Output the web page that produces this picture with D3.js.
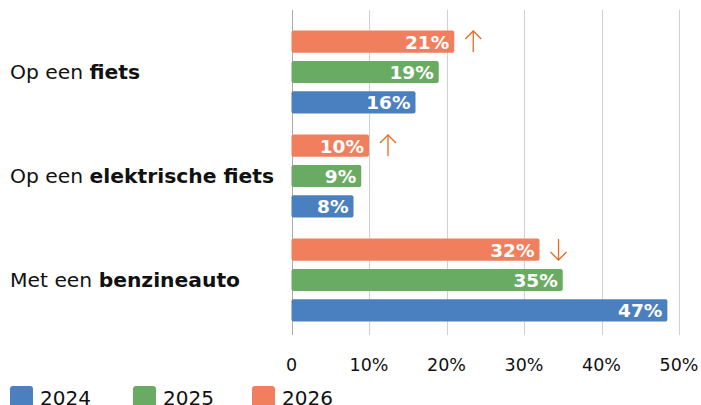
<!DOCTYPE html>
<html><head><meta charset="utf-8">
<script src="https://cdn.jsdelivr.net/npm/d3@7"></script>
<style>
body{margin:0;background:#fff;}
svg{display:block;font-family:"DejaVu Sans", "Noto Sans", sans-serif;}
</style></head>
<body><svg id="c" width="701" height="405"></svg>
<script>
const categories = [
  {plain:"Op een ", bold:"fiets"},
  {plain:"Op een ", bold:"elektrische fiets"},
  {plain:"Met een ", bold:"benzineauto"}
];
const series = ["2026","2025","2024"];
const values2026 = [21, 10, 32];
const values2025 = [19, 9, 35];
const values2024 = [16, 8, 48.5];
const labels2026 = ["21%","10%","32%"];
const labels2025 = ["19%","9%","35%"];
const labels2024 = ["16%","8%","47%"];
const trend = ["up","up","down"];
const xTicks = [0,10,20,30,40,50];
const legendOrder = ["2024","2025","2026"];
const colors = {"2024":"#4a80c0","2025":"#6aab63","2026":"#f17e5c"};
const arrowColor = "#e8691e";

const valuesBySeries = {"2026":values2026,"2025":values2025,"2024":values2024};
const labelsBySeries = {"2026":labels2026,"2025":labels2025,"2024":labels2024};
const svg = d3.select("#c");
const x = d3.scaleLinear().domain([0,50]).range([291.5,679]);
const y = d3.scaleBand().domain(d3.range(categories.length)).range([20,332]).paddingInner(0.2).paddingOuter(0.1);
const yi = d3.scaleBand().domain(series).range([0,y.bandwidth()]).paddingInner(0.27).paddingOuter(0);

// gridlines
svg.append("g").selectAll("line").data(xTicks).join("line")
  .attr("x1",d=>Math.round(x(d))+0.5).attr("x2",d=>Math.round(x(d))+0.5)
  .attr("y1",10).attr("y2",335)
  .attr("stroke",d=>d===0?"#aaa":"#d0d0d0").attr("stroke-width",1);

// axis labels
svg.append("g").selectAll("text").data(xTicks).join("text")
  .attr("x",d=>x(d)).attr("y",371).attr("text-anchor","middle")
  .attr("font-size",17.5).attr("fill","#111")
  .text(d=>d===0?"0":d+"%");

// category labels
categories.forEach((c,i)=>{
  const t = svg.append("text").attr("x",10).attr("y",y(i)+y.bandwidth()/2+7)
    .attr("font-size",20.3).attr("fill","#111");
  t.append("tspan").text(c.plain);
  t.append("tspan").attr("font-weight","bold").text(c.bold);
});

// bars
categories.forEach((c,i)=>{
  const g = svg.append("g").attr("transform",`translate(0,${y(i)})`);
  series.forEach(s=>{
    const v = valuesBySeries[s][i];
    g.append("rect").attr("x",x(0)).attr("y",yi(s))
      .attr("width",x(v)-x(0)).attr("height",yi.bandwidth())
      .attr("rx",2).attr("fill",colors[s]);
    g.append("text").attr("x",x(v)-5).attr("y",yi(s)+yi.bandwidth()/2+7)
      .attr("text-anchor","end").attr("font-size",18.5).attr("font-weight","bold")
      .attr("fill","#fff").text(labelsBySeries[s][i]);
  });
  // arrow next to 2026 bar
  const v = values2026[i];
  const cx = x(v)+19, cy = yi("2026")+yi.bandwidth()/2;
  const dir = trend[i]==="up"?-1:1;
  const tip = cy+10.5*dir;
  const a = g.append("g").attr("stroke",arrowColor).attr("stroke-width",1.3).attr("fill","none");
  a.append("line").attr("x1",cx).attr("x2",cx).attr("y1",cy-10.5*dir).attr("y2",tip);
  a.append("path").attr("d",`M${cx-8},${tip-8*dir} L${cx},${tip} L${cx+8},${tip-8*dir}`);
});

// legend
const lx = [10,133,252];
legendOrder.forEach((s,i)=>{
  svg.append("rect").attr("x",lx[i]).attr("y",386).attr("width",23).attr("height",24)
    .attr("rx",3).attr("fill",colors[s]);
  svg.append("text").attr("x",lx[i]+30).attr("y",405).attr("font-size",20).attr("fill","#111").text(s);
});
</script></body></html>
